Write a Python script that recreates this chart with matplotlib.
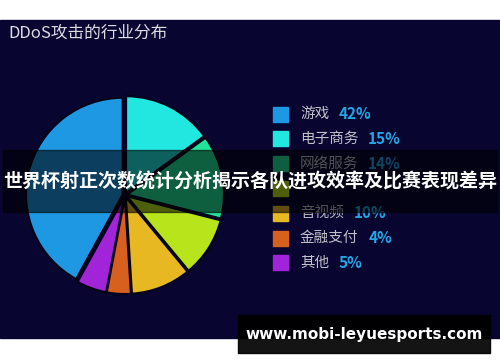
import matplotlib.pyplot as plt
from matplotlib.patches import Rectangle

plt.rcParams['font.family'] = ['Noto Sans CJK SC', 'DejaVu Sans']

# data
labels = ['游戏', '电子商务', '网络服务', '教育', '音视频', '金融支付', '其他']
shares = [42, 15, 14, 10, 10, 4, 5]
colors = ['#1e98e2', '#22e6e0', '#22e39a', '#b8e41c', '#e8b822', '#d8601e', '#a224d8']
pct_labels = ['42%', '15%', '14%', '10%', '10%', '4%', '5%']
hidden = 3  # legend row covered by the banner in the picture

# pie order is clockwise from the top, starting with 电子商务, blue last
order = [1, 2, 3, 4, 5, 6, 0]

W, H = 500, 362
fig = plt.figure(figsize=(5, 3.62), dpi=100)
fig.patch.set_facecolor('white')

# navy panel
fig.patches.append(Rectangle((0, (H - 338) / H), 1, 318 / H, transform=fig.transFigure,
                             color='#080630', zorder=-1))

fig.text(8 / W, 1 - 33 / H, 'DDoS攻击的行业分布', color='#dcdce4', fontsize=12,
         va='center', ha='left', fontweight='medium')

# pie
cx, cy, R = 125, 195, 105
half = R * 1.15
ax = fig.add_axes([(cx - half) / W, (H - cy - half) / H, 2 * half / W, 2 * half / H])
ax.set_xlim(-1.15, 1.15)
ax.set_ylim(-1.15, 1.15)
ax.axis('off')
ax.pie([shares[i] for i in order], colors=[colors[i] for i in order],
       startangle=90, counterclock=False, explode=[0.025] * len(order),
       wedgeprops=dict(edgecolor='#05041a', linewidth=1.5))

# legend
y0, dy = 114, 24.8
for i, (lab, pct, col) in enumerate(zip(labels, pct_labels, colors)):
    y = y0 + i * dy
    fig.patches.append(Rectangle((273 / W, 1 - (y + 7.5) / H), 15 / W, 15 / H,
                                 transform=fig.transFigure, color=col, zorder=2))
    if i == hidden:
        continue
    t = fig.text(300 / W, 1 - y / H, lab, color='#c0c0ca', fontsize=10.5,
                 va='center', ha='left', zorder=3)
    fig.add_artist(plt.Annotation(pct, xy=(1, 0.5), xycoords=t, xytext=(7, 0),
                                  textcoords='offset points', color='#22a6e6', fontsize=11,
                                  fontweight='bold', va='center', ha='left', zorder=3))

# overlay banner
fig.patches.append(Rectangle((3 / W, (H - 212) / H), 494 / W, 62 / H, transform=fig.transFigure,
                             color='black', alpha=0.58, zorder=5))
fig.text(250 / W, 1 - 182 / H, '世界杯射正次数统计分析揭示各队进攻效率及比赛表现差异',
         color='white', fontsize=13.7, fontweight='bold', ha='center', va='center', zorder=6)

# watermark
fig.patches.append(Rectangle((238 / W, (H - 353) / H), 252 / W, 38 / H, transform=fig.transFigure,
                             color='black', alpha=0.92, zorder=5))
fig.text(364 / W, 1 - 334 / H, 'www.mobi-leyuesports.com', color='white', fontsize=11,
         fontweight='bold', ha='center', va='center', family='DejaVu Sans', zorder=6)

fig.savefig('out.png', dpi=100, facecolor=fig.get_facecolor())
